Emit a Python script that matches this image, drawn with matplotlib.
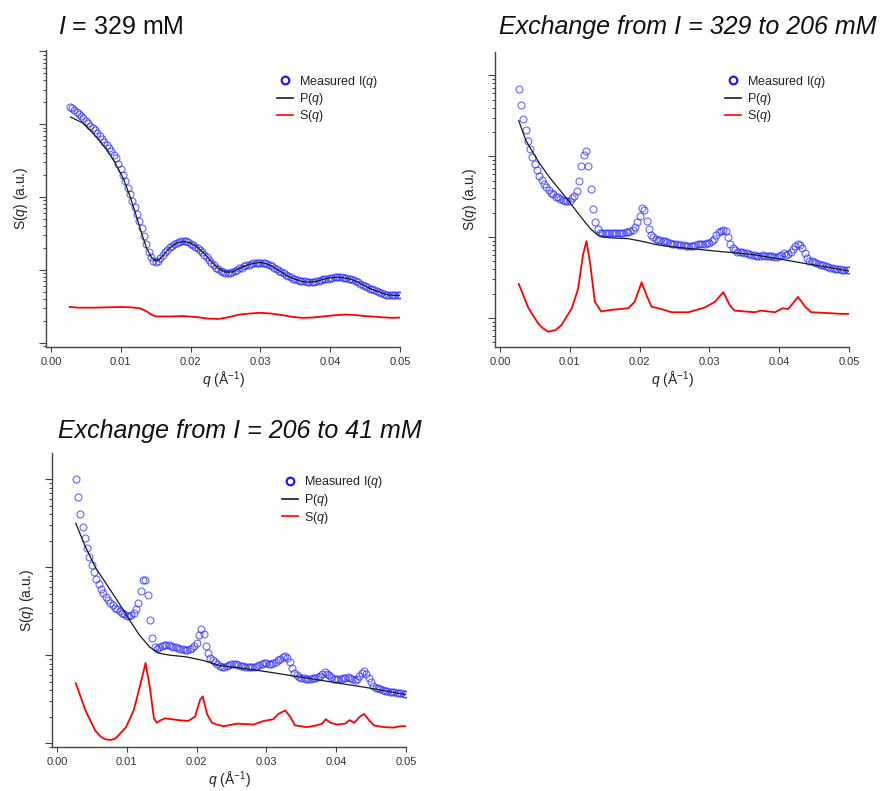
import numpy as np
import matplotlib
matplotlib.use("Agg")
import matplotlib.pyplot as plt
from matplotlib.ticker import LogLocator, NullFormatter, FormatStrFormatter
from matplotlib.lines import Line2D

plt.rcParams['font.family'] = ['Liberation Sans', 'DejaVu Sans']
plt.rcParams['mathtext.fontset'] = 'custom'
plt.rcParams['mathtext.rm'] = 'Liberation Sans'
plt.rcParams['mathtext.it'] = 'Liberation Sans:italic'

# ---------------------------------------------------------------- data
# scattering vector grid of the measured curves (1/Angstrom)
Q = [0.00267,
     0.00300, 0.00333, 0.00367, 0.00400, 0.00433, 0.00467,
     0.00500, 0.00533, 0.00567, 0.00600, 0.00633, 0.00667,
     0.00700, 0.00733, 0.00767, 0.00800, 0.00833, 0.00867,
     0.00900, 0.00933, 0.00967, 0.01000, 0.01033, 0.01067,
     0.01100, 0.01133, 0.01167, 0.01200, 0.01233, 0.01267,
     0.01300, 0.01333, 0.01367, 0.01400, 0.01433, 0.01467,
     0.01500, 0.01533, 0.01567, 0.01600, 0.01633, 0.01667,
     0.01700, 0.01733, 0.01767, 0.01800, 0.01833, 0.01867,
     0.01900, 0.01933, 0.01967, 0.02000, 0.02033, 0.02067,
     0.02100, 0.02133, 0.02167, 0.02200, 0.02233, 0.02267,
     0.02300, 0.02333, 0.02367, 0.02400, 0.02433, 0.02467,
     0.02500, 0.02533, 0.02567, 0.02600, 0.02633, 0.02667,
     0.02700, 0.02733, 0.02767, 0.02800, 0.02833, 0.02867,
     0.02900, 0.02933, 0.02967, 0.03000, 0.03033, 0.03067,
     0.03100, 0.03133, 0.03167, 0.03200, 0.03233, 0.03267,
     0.03300, 0.03333, 0.03367, 0.03400, 0.03433, 0.03467,
     0.03500, 0.03533, 0.03567, 0.03600, 0.03633, 0.03667,
     0.03700, 0.03733, 0.03767, 0.03800, 0.03833, 0.03867,
     0.03900, 0.03933, 0.03967, 0.04000, 0.04033, 0.04067,
     0.04100, 0.04133, 0.04167, 0.04200, 0.04233, 0.04267,
     0.04300, 0.04333, 0.04367, 0.04400, 0.04433, 0.04467,
     0.04500, 0.04533, 0.04567, 0.04600, 0.04633, 0.04667,
     0.04700, 0.04733, 0.04767, 0.04800, 0.04833, 0.04867,
     0.04900, 0.04933, 0.04967,
     0.05000]

# log10 of the measured intensity I(q), I = 329 mM
logI_329 = [3.24,
    3.22, 3.20, 3.17, 3.14, 3.11, 3.08,
    3.05, 3.02, 2.98, 2.95, 2.92, 2.88,
    2.84, 2.80, 2.76, 2.72, 2.68, 2.63,
    2.58, 2.53, 2.46, 2.38, 2.30, 2.22,
    2.13, 2.04, 1.95, 1.86, 1.77, 1.67,
    1.57, 1.46, 1.35, 1.25, 1.17, 1.12,
    1.11, 1.12, 1.16, 1.20, 1.24, 1.27,
    1.31, 1.33, 1.35, 1.37, 1.38, 1.39,
    1.39, 1.39, 1.38, 1.36, 1.34, 1.32,
    1.30, 1.27, 1.24, 1.20, 1.17, 1.13,
    1.10, 1.06, 1.03, 1.01, 0.99, 0.97,
    0.96, 0.96, 0.96, 0.97, 0.98, 1.00,
    1.02, 1.03, 1.05, 1.06, 1.07, 1.08,
    1.09, 1.10, 1.10, 1.10, 1.10, 1.09,
    1.08, 1.07, 1.05, 1.03, 1.01, 0.99,
    0.97, 0.95, 0.93, 0.91, 0.90, 0.88,
    0.87, 0.86, 0.85, 0.84, 0.84, 0.83,
    0.83, 0.83, 0.83, 0.84, 0.85, 0.86,
    0.87, 0.88, 0.88, 0.89, 0.89, 0.90,
    0.90, 0.90, 0.90, 0.89, 0.89, 0.88,
    0.87, 0.86, 0.85, 0.83, 0.81, 0.79,
    0.78, 0.76, 0.74, 0.73, 0.72, 0.71,
    0.70, 0.68, 0.67, 0.66, 0.66, 0.65,
    0.65, 0.65, 0.65,
    0.65]

# log10 of the measured intensity, exchange 329 -> 206 mM
logI_329_206 = [2.83,
    2.64, 2.46, 2.32, 2.19, 2.09, 1.99,
    1.90, 1.83, 1.76, 1.71, 1.66, 1.62,
    1.58, 1.55, 1.53, 1.50, 1.49, 1.47,
    1.46, 1.45, 1.45, 1.45, 1.48, 1.51,
    1.57, 1.70, 1.88, 2.02, 2.06, 1.88,
    1.60, 1.35, 1.19, 1.10, 1.05, 1.05,
    1.05, 1.05, 1.05, 1.05, 1.05, 1.05,
    1.05, 1.05, 1.05, 1.06, 1.06, 1.07,
    1.09, 1.12, 1.19, 1.26, 1.36, 1.33,
    1.20, 1.10, 1.03, 1.00, 0.98, 0.96,
    0.96, 0.95, 0.95, 0.94, 0.93, 0.92,
    0.91, 0.91, 0.90, 0.90, 0.90, 0.89,
    0.89, 0.89, 0.89, 0.90, 0.91, 0.91,
    0.92, 0.92, 0.93, 0.93, 0.95, 0.98,
    1.02, 1.06, 1.08, 1.09, 1.07, 1.00,
    0.91, 0.86, 0.84, 0.82, 0.81, 0.81,
    0.80, 0.80, 0.79, 0.78, 0.78, 0.77,
    0.76, 0.77, 0.78, 0.77, 0.76, 0.76,
    0.76, 0.75, 0.75, 0.76, 0.78, 0.80,
    0.78, 0.79, 0.81, 0.85, 0.89, 0.91,
    0.90, 0.86, 0.80, 0.74, 0.71, 0.70,
    0.69, 0.68, 0.67, 0.66, 0.65, 0.64,
    0.63, 0.62, 0.62, 0.61, 0.60, 0.60,
    0.59, 0.59, 0.59,
    0.59]

# log10 of the measured intensity, exchange 206 -> 41 mM
logI_206_41 = [3.00,
    2.80, 2.61, 2.46, 2.33, 2.22, 2.12,
    2.02, 1.95, 1.87, 1.81, 1.75, 1.71,
    1.66, 1.63, 1.59, 1.57, 1.54, 1.52,
    1.50, 1.48, 1.47, 1.45, 1.45, 1.46,
    1.48, 1.52, 1.59, 1.73, 1.85, 1.86,
    1.68, 1.40, 1.20, 1.09, 1.07, 1.09,
    1.10, 1.11, 1.11, 1.11, 1.10, 1.09,
    1.09, 1.08, 1.07, 1.07, 1.06, 1.06,
    1.07, 1.08, 1.10, 1.14, 1.23, 1.30,
    1.24, 1.10, 1.02, 0.97, 0.94, 0.92,
    0.90, 0.88, 0.87, 0.87, 0.88, 0.89,
    0.90, 0.90, 0.90, 0.89, 0.88, 0.88,
    0.87, 0.87, 0.87, 0.87, 0.87, 0.88,
    0.89, 0.90, 0.91, 0.91, 0.90, 0.90,
    0.91, 0.92, 0.94, 0.96, 0.98, 0.99,
    0.97, 0.92, 0.85, 0.80, 0.77, 0.75,
    0.74, 0.74, 0.73, 0.73, 0.73, 0.74,
    0.74, 0.75, 0.76, 0.78, 0.81, 0.79,
    0.77, 0.75, 0.73, 0.73, 0.73, 0.73,
    0.74, 0.74, 0.75, 0.74, 0.73, 0.72,
    0.73, 0.76, 0.80, 0.82, 0.79, 0.74,
    0.69, 0.65, 0.63, 0.62, 0.61, 0.60,
    0.59, 0.59, 0.58, 0.58, 0.58, 0.57,
    0.57, 0.57, 0.56,
    0.56]

# form factor P(q), log10
qP_329 = [0.0028, 0.0045, 0.0056, 0.0068, 0.0080, 0.0092, 0.0104, 0.0114,
          0.0122, 0.0130, 0.0137, 0.0144, 0.0150, 0.0155,
          0.016, 0.017, 0.018, 0.019, 0.020, 0.021, 0.022, 0.023, 0.024,
          0.025, 0.026, 0.027, 0.028, 0.029, 0.030, 0.031, 0.032, 0.033,
          0.034, 0.035, 0.036, 0.037, 0.038, 0.039, 0.040, 0.041, 0.042,
          0.043, 0.044, 0.045, 0.046, 0.047, 0.048, 0.049, 0.050]
logP_329 = [3.10, 3.02, 2.92, 2.79, 2.65, 2.47, 2.25, 1.99,
            1.75, 1.50, 1.30, 1.17, 1.12, 1.14,
            1.19, 1.30, 1.37, 1.39, 1.37, 1.31, 1.22, 1.11, 1.02,
            0.97, 0.97, 1.02, 1.06, 1.09, 1.10, 1.08, 1.03, 0.97,
            0.91, 0.87, 0.84, 0.83, 0.84, 0.87, 0.89, 0.90, 0.89,
            0.87, 0.83, 0.78, 0.73, 0.70, 0.66, 0.65, 0.65]

qP_329_206 = [0.0027, 0.0037, 0.0045, 0.0057, 0.0071, 0.0086, 0.0100, 0.0115,
              0.0129, 0.0138, 0.0148, 0.0160, 0.0184, 0.0208, 0.0222, 0.0236,
              0.0270, 0.0317, 0.0344, 0.0365, 0.0413, 0.0439, 0.0461, 0.0500]
logP_329_206 = [2.44, 2.20, 2.08, 1.91, 1.74, 1.58, 1.43, 1.26,
                1.11, 1.04, 1.00, 0.99, 0.98, 0.94, 0.91, 0.89,
                0.86, 0.82, 0.80, 0.78, 0.71, 0.67, 0.64, 0.58]

qP_206_41 = [0.0027, 0.0041, 0.0055, 0.0070, 0.0089, 0.0104, 0.0118, 0.0133,
             0.0147, 0.0161, 0.0185, 0.0209, 0.0233, 0.0267, 0.0301, 0.0349,
             0.0396, 0.0444, 0.0500]
logP_206_41 = [2.50, 2.23, 2.00, 1.82, 1.59, 1.40, 1.23, 1.09,
               1.02, 1.00, 0.98, 0.94, 0.88, 0.85, 0.81, 0.75,
               0.69, 0.63, 0.55]

# structure factor S(q), log10
qS_329 = [0.0027, 0.0040, 0.0060, 0.0080, 0.0100, 0.0115, 0.0128, 0.0137,
          0.0143, 0.0150, 0.0170, 0.0190, 0.0210, 0.0225, 0.0240, 0.0255,
          0.0270, 0.0285, 0.0300, 0.0315, 0.0330, 0.0345, 0.0360, 0.0375,
          0.0390, 0.0405, 0.0420, 0.0435, 0.0450, 0.0465, 0.0480, 0.0490,
          0.0500]
logS_329 = [0.49, 0.48, 0.48, 0.485, 0.49, 0.485, 0.47, 0.43,
            0.39, 0.36, 0.36, 0.365, 0.35, 0.33, 0.325, 0.35,
            0.385, 0.40, 0.41, 0.40, 0.38, 0.355, 0.34, 0.345,
            0.36, 0.375, 0.385, 0.38, 0.365, 0.355, 0.345, 0.34,
            0.345]

qS_329_206 = [0.0027, 0.0041, 0.0055, 0.0062, 0.0069, 0.0075, 0.0080, 0.0088,
              0.0103, 0.0112, 0.0119, 0.0124, 0.0129, 0.0136, 0.0145, 0.0160,
              0.0184, 0.0193, 0.0203, 0.0210, 0.0217, 0.0231, 0.0246, 0.0270,
              0.0294, 0.0308, 0.0320, 0.0329, 0.0336, 0.0365, 0.0374, 0.0394,
              0.0405, 0.0413, 0.0427, 0.0437, 0.0446, 0.0470, 0.0489, 0.0500]
logS_329_206 = [0.42, 0.12, -0.07, -0.13, -0.17, -0.16, -0.15, -0.09,
                0.12, 0.36, 0.78, 0.95, 0.69, 0.20, 0.08, 0.10,
                0.12, 0.20, 0.44, 0.28, 0.14, 0.11, 0.07, 0.07,
                0.13, 0.20, 0.32, 0.16, 0.09, 0.07, 0.09, 0.07,
                0.12, 0.11, 0.26, 0.14, 0.07, 0.06, 0.05, 0.05]

qS_206_41 = [0.0027, 0.0041, 0.0055, 0.0063, 0.0070, 0.0077, 0.0084, 0.0099,
             0.0110, 0.0120, 0.0127, 0.0133, 0.0139, 0.0143, 0.0149, 0.0155,
             0.0174, 0.0188, 0.0198, 0.0205, 0.0209, 0.0215, 0.0222, 0.0229,
             0.0239, 0.0258, 0.0282, 0.0296, 0.0310, 0.0317, 0.0327, 0.0334,
             0.0341, 0.0358, 0.0372, 0.0380, 0.0385, 0.0392, 0.0401, 0.0413,
             0.0419, 0.0426, 0.0434, 0.0440, 0.0447, 0.0454, 0.0468, 0.0482,
             0.0492, 0.0500]
logS_206_41 = [0.68, 0.37, 0.14, 0.07, 0.04, 0.035, 0.05, 0.18,
               0.37, 0.68, 0.91, 0.64, 0.28, 0.23, 0.26, 0.28,
               0.26, 0.25, 0.30, 0.49, 0.53, 0.33, 0.23, 0.21,
               0.19, 0.22, 0.21, 0.25, 0.27, 0.33, 0.37, 0.30,
               0.20, 0.18, 0.20, 0.22, 0.27, 0.23, 0.21, 0.22,
               0.26, 0.23, 0.30, 0.33, 0.26, 0.20, 0.18, 0.175,
               0.19, 0.19]

x_ticks = [0.00, 0.01, 0.02, 0.03, 0.04, 0.05]

# ---------------------------------------------------------------- figure
W, H = 883, 791
fig = plt.figure(figsize=(W / 100, H / 100), dpi=100)
fig.patch.set_facecolor('white')

AXIS_COLOR = '#444444'
MEAS_COLOR = (0.15, 0.15, 1.0)


def px_rect(left, top, right, bottom):
    return [left / W, 1 - bottom / H, (right - left) / W, (bottom - top) / H]


def draw_panel(rect, logI, qP, logP, qS, logS, ylog_range, legend_xy):
    ax = fig.add_axes(rect)
    ax.plot(Q, 10 ** np.array(logI), linestyle='none', marker='o',
            markersize=5.0, markerfacecolor='none', markeredgecolor=MEAS_COLOR,
            markeredgewidth=0.8, alpha=0.7)
    ax.plot(qP, 10 ** np.array(logP), color='#1a1a1a', linewidth=0.9)
    ax.plot(qS, 10 ** np.array(logS), color='#ff0000', linewidth=1.3,
            solid_joinstyle='round')

    ax.set_yscale('log')
    ax.set_ylim(10 ** ylog_range[0], 10 ** ylog_range[1])
    ax.set_xlim(-0.0007, 0.05)
    ax.yaxis.set_major_locator(LogLocator(base=10, numticks=12))
    ax.yaxis.set_minor_locator(LogLocator(base=10, subs=np.arange(2, 10), numticks=12))
    ax.yaxis.set_major_formatter(NullFormatter())
    ax.yaxis.set_minor_formatter(NullFormatter())
    ax.set_xticks(x_ticks)
    ax.xaxis.set_major_formatter(FormatStrFormatter('%.2f'))

    for side in ('top', 'right'):
        ax.spines[side].set_visible(False)
    for side in ('left', 'bottom'):
        ax.spines[side].set_color(AXIS_COLOR)
        ax.spines[side].set_linewidth(1.0)

    ax.tick_params(axis='x', which='major', direction='out', length=3.6,
                   width=0.8, color=AXIS_COLOR, labelsize=8, labelcolor='#333333')
    ax.tick_params(axis='y', which='major', direction='out', length=4.8,
                   width=0.8, color=AXIS_COLOR)
    ax.tick_params(axis='y', which='minor', direction='out', length=2.4,
                   width=0.7, color=AXIS_COLOR)

    ax.set_xlabel('$q$ (Å$^{-1}$)', fontsize=10, color='#222222', labelpad=2)
    ax.set_ylabel('S($q$) (a.u.)', fontsize=10, color='#222222', labelpad=3.4)

    handles = [
        Line2D([], [], linestyle='none', marker='o', markersize=5.5,
               markerfacecolor='none', markeredgecolor=(0.1, 0.1, 1.0),
               markeredgewidth=1.6),
        Line2D([], [], color='#1a1a1a', linewidth=1.2),
        Line2D([], [], color='#ff0000', linewidth=1.2),
    ]
    labels = ['Measured I($q$)', 'P($q$)', 'S($q$)']
    ax.legend(handles, labels, loc='center left',
              bbox_to_anchor=(legend_xy[0] / W, 1 - legend_xy[1] / H),
              bbox_transform=fig.transFigure, frameon=False, fontsize=9,
              borderpad=0, borderaxespad=0, handlelength=1.3,
              handletextpad=0.45, labelspacing=0.12, labelcolor='#222222')
    return ax


draw_panel(px_rect(46, 50, 400, 347), logI_329, qP_329, logP_329,
           qS_329, logS_329, (-0.06, 4.02), (277, 99))
draw_panel(px_rect(495, 52, 849, 347), logI_329_206, qP_329_206, logP_329_206,
           qS_329_206, logS_329_206, (-0.36, 3.29), (725, 99))
draw_panel(px_rect(52, 453, 406, 747), logI_206_41, qP_206_41, logP_206_41,
           qS_206_41, logS_206_41, (-0.046, 3.30), (282, 500))

# panel titles
fig.text(58 / W, 1 - 34 / H, '$I$ = 329 mM', fontsize=18, ha='left',
         va='baseline', color='#111111')
fig.text(499 / W, 1 - 34 / H, 'Exchange from I = 329 to 206 mM', fontsize=18,
         style='italic', ha='left', va='baseline', color='#111111')
fig.text(58 / W, 1 - 438 / H, 'Exchange from I = 206 to 41 mM', fontsize=18,
         style='italic', ha='left', va='baseline', color='#111111')

fig.savefig('out.png', dpi=100, facecolor='white')
